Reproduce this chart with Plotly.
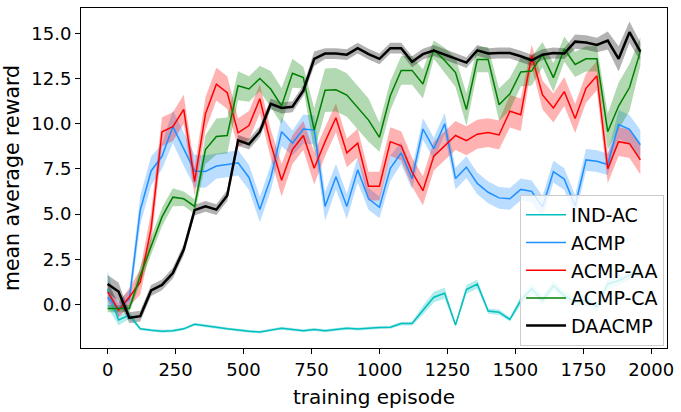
import plotly.graph_objects as go

episodes = list(range(0, 2000, 40))

ind_ac = [0.87, -0.85, -0.58, -1.34, -1.42, -1.47, -1.45, -1.34, -1.09, -1.15,
          -1.25, -1.34, -1.42, -1.47, -1.52, -1.40, -1.31, -1.38, -1.45, -1.38,
          -1.45, -1.38, -1.31, -1.35, -1.30, -1.27, -1.25, -1.05, -1.05, -0.31,
          0.41, 0.63, -1.13, 0.83, 1.14, -0.36, -0.42, -0.82, 0.23, 0.87,
          0.23, 1.05, 0.50, 0.14, 0.23, -0.13, 1.14, 1.32, 1.63, 1.80]
ind_ac_err = [1.0, 0.3, 0.2, 0.08, 0.08, 0.08, 0.08, 0.08, 0.08, 0.08,
              0.08, 0.08, 0.08, 0.08, 0.08, 0.08, 0.08, 0.08, 0.08, 0.08,
              0.08, 0.08, 0.08, 0.08, 0.08, 0.08, 0.08, 0.1, 0.1, 0.25,
              0.3, 0.3, 0.1, 0.25, 0.25, 0.15, 0.15, 0.1, 0.25, 0.25,
              0.25, 0.25, 0.25, 0.25, 0.25, 0.25, 0.25, 0.25, 0.25, 0.25]

acmp = [0.4, -0.2, 0.3, 5.22, 7.39, 8.2, 9.84, 8.57, 7.39, 7.36,
        7.66, 7.75, 7.84, 7.03, 5.26, 7.0, 9.56, 8.93, 9.71, 9.65,
        5.43, 7.07, 5.43, 7.45, 5.85, 5.38, 7.54, 8.38, 6.97, 9.71,
        8.62, 10.0, 6.97, 7.6, 6.7, 6.21, 5.9, 5.85, 6.37, 6.26,
        5.4, 7.35, 6.94, 5.45, 8.0, 7.93, 7.75, 9.96, 9.69, 8.84]
acmp_err = [0.5, 0.4, 0.5, 0.8, 0.8, 0.7, 0.9, 0.9, 0.9, 0.9,
            0.7, 0.7, 0.7, 0.7, 0.7, 0.7, 0.8, 0.7, 0.8, 0.8,
            0.8, 0.7, 0.7, 0.7, 0.6, 0.6, 0.7, 0.6, 0.6, 0.6,
            0.6, 0.6, 0.6, 0.6, 0.6, 0.6, 0.6, 0.6, 0.6, 0.6,
            0.6, 0.6, 0.6, 0.6, 0.6, 0.6, 0.6, 0.8, 0.8, 0.8]

acmp_aa = [0.72, -0.31, 0.42, 1.24, 4.22, 9.56, 9.84, 10.8, 6.8, 10.56,
           12.19, 11.72, 9.5, 9.9, 11.38, 8.9, 6.88, 8.57, 9.35, 7.54,
           9.01, 10.33, 8.39, 8.93, 6.55, 6.55, 9.01, 8.78, 7.33, 6.3,
           8.21, 8.78, 9.35, 9.06, 9.42, 9.51, 9.38, 10.69, 10.5, 13.77,
           11.59, 10.87, 11.78, 10.29, 11.96, 12.65, 7.51, 9.01, 8.9, 8.0]
acmp_aa_err = [0.5, 0.4, 0.5, 0.7, 0.9, 0.8, 0.8, 0.8, 0.8, 0.9,
               0.9, 0.9, 0.8, 0.8, 0.8, 0.8, 0.9, 0.8, 0.8, 0.9,
               0.8, 0.8, 0.8, 0.8, 0.8, 0.8, 0.8, 0.8, 0.8, 0.8,
               0.8, 0.8, 0.8, 0.8, 0.8, 0.8, 0.8, 0.9, 0.9, 0.6,
               0.8, 0.8, 0.8, 0.8, 0.8, 0.8, 0.8, 0.8, 0.8, 0.8]

acmp_ca = [-0.22, -0.22, -0.22, 1.59, 3.22, 4.85, 5.94, 5.85, 5.43, 8.57,
           9.29, 9.35, 12.1, 11.92, 12.5, 11.92, 10.98, 12.79, 12.55, 9.65,
           11.85, 11.88, 11.59, 10.9, 10.2, 9.25, 11.55, 12.95, 12.95, 12.2,
           14.1, 13.5, 12.83, 10.78, 13.55, 13.55, 11.05, 11.65, 12.86, 12.91,
           13.82, 12.55, 14.13, 13.28, 13.59, 13.59, 9.56, 10.98, 12.0, 14.0]
acmp_ca_err = [0.2, 0.2, 0.2, 0.5, 0.5, 0.5, 0.5, 0.4, 0.4, 0.8,
               1.0, 1.0, 0.8, 0.7, 0.7, 1.0, 1.0, 0.8, 0.6, 1.2,
               1.2, 1.2, 1.2, 1.2, 1.2, 0.8, 0.8, 0.8, 0.8, 0.8,
               0.5, 0.7, 0.8, 0.9, 0.7, 0.7, 0.9, 0.9, 0.8, 0.8,
               0.7, 0.8, 0.7, 0.7, 0.7, 0.7, 1.0, 1.3, 1.3, 0.8]

daacmp = [1.14, 0.72, -0.73, -0.64, 0.78, 1.09, 1.74, 3.04, 5.22, 5.43,
          5.25, 6.03, 9.08, 8.87, 9.56, 11.1, 10.87, 10.94, 11.83, 13.59,
          13.88, 13.88, 13.82, 14.18, 13.85, 13.59, 14.18, 14.18, 13.43, 13.85,
          14.05, 13.82, 13.62, 13.38, 14.06, 13.88, 13.91, 13.91, 13.73, 13.51,
          13.82, 13.91, 13.88, 14.54, 14.49, 14.36, 14.6, 13.59, 15.06, 13.99]
daacmp_err = [0.5, 0.5, 0.3, 0.3, 0.3, 0.3, 0.3, 0.3, 0.3, 0.3,
              0.3, 0.3, 0.3, 0.3, 0.3, 0.3, 0.3, 0.3, 0.3, 0.4,
              0.3, 0.3, 0.3, 0.3, 0.3, 0.3, 0.3, 0.3, 0.3, 0.3,
              0.3, 0.3, 0.3, 0.3, 0.3, 0.3, 0.3, 0.3, 0.3, 0.3,
              0.3, 0.3, 0.3, 0.4, 0.4, 0.4, 0.5, 0.7, 0.6, 0.5]

series = [
    ("IND-AC", ind_ac, ind_ac_err, "#00BFBF", "rgba(0,191,191,0.3)", 1.5),
    ("ACMP", acmp, acmp_err, "#1E90FF", "rgba(30,144,255,0.3)", 1.5),
    ("ACMP-AA", acmp_aa, acmp_aa_err, "#FF0000", "rgba(255,0,0,0.3)", 1.5),
    ("ACMP-CA", acmp_ca, acmp_ca_err, "#008000", "rgba(0,128,0,0.3)", 1.5),
    ("DAACMP", daacmp, daacmp_err, "#000000", "rgba(0,0,0,0.3)", 2.5),
]

fig = go.Figure()
for name, y, err, col, fcol, lw in series:
    upper = [a + b for a, b in zip(y, err)]
    lower = [a - b for a, b in zip(y, err)]
    fig.add_trace(go.Scatter(
        x=episodes + episodes[::-1], y=upper + lower[::-1],
        fill="toself", fillcolor=fcol, line=dict(width=0),
        mode="lines", showlegend=False, hoverinfo="skip"))
for name, y, err, col, fcol, lw in series:
    fig.add_trace(go.Scatter(
        x=episodes, y=y, mode="lines", name=name,
        line=dict(color=col, width=lw)))

axis_common = dict(showline=True, mirror=True, linecolor="black", linewidth=1,
                   ticks="outside", ticklen=5, tickcolor="black",
                   showgrid=False, zeroline=False,
                   tickfont=dict(family="DejaVu Sans", size=18, color="black"))

fig.update_layout(
    width=681, height=412,
    margin=dict(l=81, r=8, t=7, b=59),
    plot_bgcolor="white", paper_bgcolor="white",
    xaxis=dict(range=[-98, 2058], tickvals=[0, 250, 500, 750, 1000, 1250, 1500, 1750, 2000],
               title=dict(text="training episode", standoff=11,
                          font=dict(family="DejaVu Sans", size=20, color="black")),
               **axis_common),
    yaxis=dict(range=[-2.4, 16.4], tickvals=[0, 2.5, 5, 7.5, 10, 12.5, 15],
               tickformat=".1f",
               title=dict(text="mean average reward", standoff=6,
                          font=dict(family="DejaVu Sans", size=20.5, color="black")),
               **axis_common),
    legend=dict(x=0.995, y=0.006, xanchor="right", yanchor="bottom",
                bgcolor="rgba(255,255,255,0.8)", bordercolor="#cccccc", borderwidth=1,
                font=dict(family="DejaVu Sans", size=19, color="black"),
                tracegroupgap=0, itemwidth=40),
)

fig.write_html("out.html")
